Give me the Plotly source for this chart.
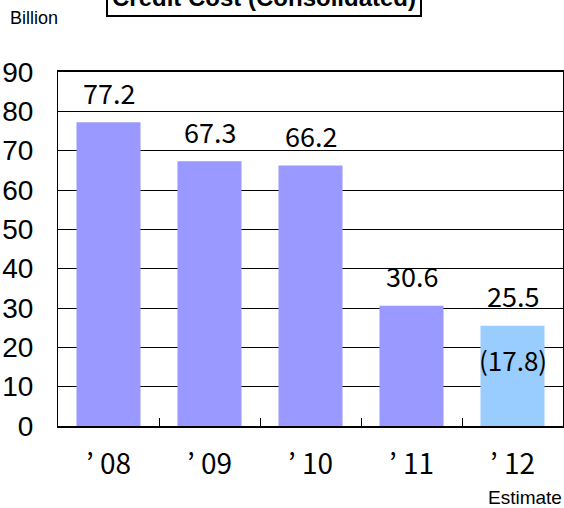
import plotly.graph_objects as go

categories = ["’ 08", "’ 09", "’ 10", "’ 11", "’ 12"]
values = [77.2, 67.3, 66.2, 30.6, 25.5]
colors = ["#9999FF", "#9999FF", "#9999FF", "#9999FF", "#99CCFF"]
sub_category = "’ 12"
sub_value = 17.8
y_ticks = [0, 10, 20, 30, 40, 50, 60, 70, 80, 90]

CJK = "Noto Sans CJK JP"

fig = go.Figure()
fig.add_trace(go.Bar(x=categories, y=values, marker=dict(color=colors, line=dict(width=0)),
                     showlegend=False))

for c, v in zip(categories, values):
    fig.add_annotation(x=c, y=v, text=f"{v:.1f}", showarrow=False, yanchor="middle",
                       yshift=30, font=dict(family=CJK, size=27, color="black"))

fig.add_annotation(x=sub_category, y=sub_value, text=f"({sub_value:.1f})", showarrow=False,
                   yanchor="middle", yshift=-4, font=dict(family=CJK, size=26, color="black"))

fig.add_annotation(xref="paper", yref="paper", x=0.408, y=1.155, xanchor="center", yanchor="bottom",
                   text="<b>Credit Cost (Consolidated)</b>", showarrow=False,
                   font=dict(family="Liberation Sans, Arial", size=24, color="black"),
                   bordercolor="black", borderwidth=2, borderpad=4, bgcolor="white")
fig.add_annotation(xref="paper", yref="paper", x=-0.099, y=1.1525, xanchor="left", yanchor="middle",
                   text="Billion", showarrow=False,
                   font=dict(family="Liberation Sans, Arial", size=18, color="black"))
fig.add_annotation(xref="paper", yref="paper", x=1.002, y=-0.2006, xanchor="right", yanchor="middle",
                   text="Estimate", showarrow=False,
                   font=dict(family="Liberation Sans, Arial", size=19, color="black"))

fig.update_layout(
    width=564, height=508,
    margin=dict(l=58, r=1, t=72, b=82, autoexpand=False),
    paper_bgcolor="white", plot_bgcolor="white",
    bargap=0.366,
    xaxis=dict(showline=True, linecolor="black", linewidth=2, mirror=True,
               ticks="inside", tickson="boundaries", ticklen=8, tickcolor="black",
               tickfont=dict(family=CJK, size=28, color="black"), automargin=False,
               ticklabelstandoff=12, showgrid=False),
    yaxis=dict(range=[0, 90], tickvals=y_ticks, showline=True, linecolor="black", linewidth=1,
               mirror=True, showgrid=True, gridcolor="black", gridwidth=1, automargin=False,
               tickfont=dict(family="Liberation Sans, Arial", size=28, color="black"),
               ticks="", ticklabelstandoff=18, zeroline=False),
)

fig.write_html("out.html", config={"displayModeBar": False},
               post_script="document.body.style.margin='0';document.body.style.overflow='hidden';")
